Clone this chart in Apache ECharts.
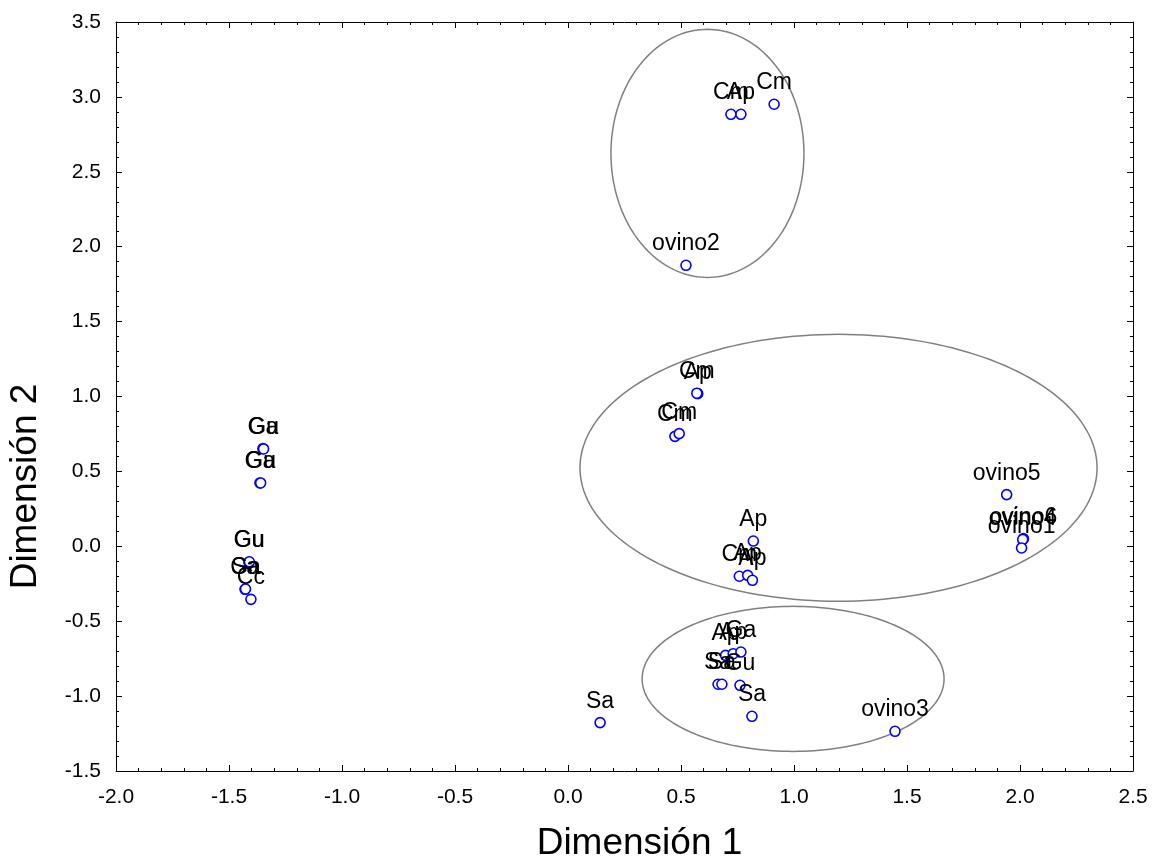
<!DOCTYPE html>
<html>
<head>
<meta charset="utf-8">
<title>Dimensión 1 / Dimensión 2</title>
<script src="https://cdn.jsdelivr.net/npm/echarts@6/dist/echarts.min.js"></script>
<style>
  html, body { margin: 0; padding: 0; background: #ffffff; }
  #chart { width: 1160px; height: 858px; }
</style>
</head>
<body>
<div id="chart"></div>
<script>
// Point coordinates on the two dimensions, with their labels
const pointLabels = ['Cm', 'Ap', 'Cm', 'ovino2', 'Ap', 'Cm', 'Cm', 'Cm', 'Ap', 'Cm', 'Ap', 'Ap',
  'Ap', 'Ap', 'Ga', 'Sa', 'Sa', 'Gu', 'Sa', 'Sa', 'ovino3', 'ovino5', 'ovino6', 'ovino4', 'ovino1',
  'Ga', 'Gu', 'Ga', 'Gu', 'Gu', 'Gu', 'Sa', 'Ga', 'Cc'];
const dim1 = [0.721, 0.765, 0.912, 0.522, 0.574, 0.570, 0.473, 0.492, 0.820, 0.758, 0.795, 0.816,
  0.697, 0.731, 0.765, 0.664, 0.681, 0.761, 0.814, 0.142, 1.447, 1.941, 2.015, 2.012, 2.007,
  -1.350, -1.347, -1.363, -1.360, -1.412, -1.410, -1.429, -1.427, -1.403];
const dim2 = [2.884, 2.884, 2.951, 1.876, 1.019, 1.022, 0.734, 0.752, 0.035, -0.200, -0.194, -0.227,
  -0.728, -0.717, -0.706, -0.921, -0.921, -0.928, -1.135, -1.177, -1.235, 0.345, 0.051, 0.045, -0.011,
  0.652, 0.650, 0.423, 0.423, -0.107, -0.103, -0.287, -0.285, -0.354];

// Grouping ellipses: centre and semi-axes in data units
const ellipseCx = [0.617, 1.197, 0.996];
const ellipseCy = [2.623, 0.524, -0.885];
const ellipseRx = [0.427, 1.144, 0.668];
const ellipseRy = [0.828, 0.891, 0.484];

// Axis ranges and tick step
const xRange = [-2.0, 2.5];
const yRange = [-1.5, 3.5];
const tickStep = 0.5;

const FONT = '"Liberation Sans", Arial, sans-serif';

const points = dim1.map((x, i) => [x, dim2[i], pointLabels[i]]);
const ellipses = ellipseCx.map((cx, i) => [cx, ellipseCy[i], ellipseRx[i], ellipseRy[i]]);

const chart = echarts.init(document.getElementById('chart'), null, { renderer: 'canvas' });

const mainAxisCommon = {
  type: 'value',
  interval: tickStep,
  axisLine: { show: true, onZero: false, lineStyle: { color: '#000', width: 1 } },
  axisTick: { show: true, inside: true, length: 6, lineStyle: { color: '#000' } },
  minorTick: { show: true, splitNumber: 5, length: 3, lineStyle: { color: '#000' } },
  splitLine: { show: false },
  axisLabel: {
    color: '#000', fontFamily: FONT, fontSize: 21,
    formatter: v => v.toFixed(1)
  }
};

const mirrorAxis = (extra) => Object.assign({}, mainAxisCommon, extra, {
  axisLabel: { show: false },
  name: ''
});

chart.setOption({
  animation: false,
  backgroundColor: '#ffffff',
  grid: { left: 116, right: 27, top: 22, bottom: 87, containLabel: false, outerBoundsMode: 'none' },
  xAxis: [
    Object.assign({}, mainAxisCommon, {
      min: xRange[0], max: xRange[1], position: 'bottom',
      name: 'Dimensión 1', nameLocation: 'middle', nameGap: 54,
      nameTextStyle: { color: '#000', fontFamily: FONT, fontSize: 37, padding: [0, 0, 0, 30] },
      axisLabel: Object.assign({}, mainAxisCommon.axisLabel, { margin: 16 })
    }),
    mirrorAxis({ min: xRange[0], max: xRange[1], position: 'top' })
  ],
  yAxis: [
    Object.assign({}, mainAxisCommon, {
      min: yRange[0], max: yRange[1], position: 'left',
      name: 'Dimensión 2', nameLocation: 'middle', nameGap: 72,
      nameTextStyle: { color: '#000', fontFamily: FONT, fontSize: 37, padding: [0, 180, 0, 0] },
      axisLabel: Object.assign({}, mainAxisCommon.axisLabel, { margin: 15 })
    }),
    mirrorAxis({ min: yRange[0], max: yRange[1], position: 'right' })
  ],
  series: [
    {
      type: 'custom',
      xAxisIndex: 0, yAxisIndex: 0,
      silent: true,
      data: ellipses,
      renderItem: function (params, api) {
        const cx = api.value(0), cy = api.value(1), rx = api.value(2), ry = api.value(3);
        const pts = [];
        const n = 180;
        for (let k = 0; k <= n; k++) {
          const t = (k / n) * Math.PI * 2;
          pts.push(api.coord([cx + rx * Math.cos(t), cy + ry * Math.sin(t)]));
        }
        return {
          type: 'polyline',
          shape: { points: pts },
          style: { stroke: '#808080', lineWidth: 1.5, fill: null }
        };
      },
      z: 1
    },
    {
      type: 'scatter',
      xAxisIndex: 0, yAxisIndex: 0,
      data: points,
      symbol: 'circle',
      symbolSize: 10,
      itemStyle: { color: '#ffffff', borderColor: '#0000ff', borderWidth: 1.6, opacity: 1 },
      label: {
        show: true,
        position: 'top',
        distance: 4,
        color: '#000',
        fontFamily: FONT,
        fontSize: 23,
        formatter: p => p.value[2]
      },
      emphasis: { disabled: true },
      labelLayout: { hideOverlap: false },
      z: 2
    }
  ]
});
</script>
</body>
</html>
